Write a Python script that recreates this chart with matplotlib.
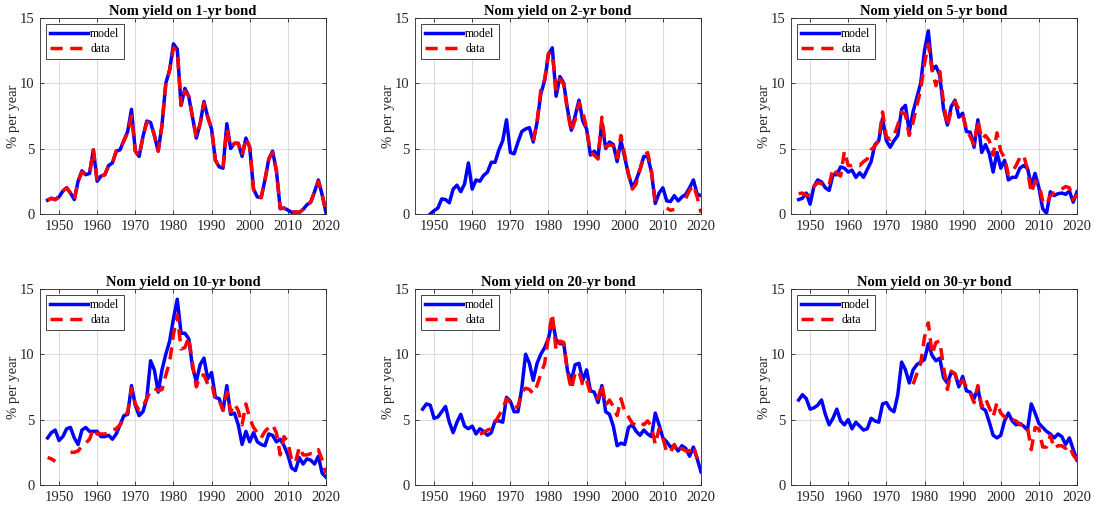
import numpy as np
import matplotlib
matplotlib.use("Agg")
from matplotlib import pyplot as plt

years = np.arange(1947, 2021)
nan = np.nan

# model-implied nominal yields, % per year, 1947-2020
model_1y = [1.05, 1.2, 1.1, 1.3, 1.75, 2.0, 1.6, 1.1, 2.5, 3.3,
            3.0, 3.1, 4.9, 2.5, 2.9, 3.0, 3.7, 3.9, 4.8, 4.9,
            5.6, 6.3, 8.0, 4.8, 4.4, 5.9, 7.1, 7.0, 6.0, 4.8,
            6.8, 10.0, 11.0, 13.0, 12.6, 8.3, 9.6, 9.0, 7.4, 5.8,
            6.9, 8.6, 7.4, 6.5, 4.1, 3.6, 3.5, 6.9, 5.0, 5.4,
            5.4, 4.4, 5.8, 5.1, 1.9, 1.3, 1.25, 2.6, 4.2, 4.8,
            3.3, 0.4, 0.45, 0.3, 0.12, 0.15, 0.12, 0.35, 0.7, 0.9,
            1.7, 2.6, 1.45, 0.1]
model_2y = [nan, nan, 0.0, 0.25, 0.45, 1.15, 1.1, 0.85, 1.9, 2.2,
            1.7, 2.3, 3.9, 1.9, 2.6, 2.5, 2.95, 3.2, 3.95, 3.95,
            4.9, 5.6, 7.2, 4.7, 4.6, 5.5, 6.3, 6.5, 6.6, 5.5,
            7.0, 9.2, 10.2, 12.2, 12.7, 9.0, 10.5, 10.0, 8.0, 6.4,
            7.5, 8.7, 7.1, 6.5, 4.5, 4.8, 4.4, 7.0, 5.0, 5.5,
            5.3, 4.0, 5.6, 4.3, 3.0, 2.0, 2.6, 3.4, 4.4, 4.4,
            3.2, 0.8, 1.6, 2.0, 1.0, 0.95, 1.4, 1.0, 1.3, 1.5,
            2.0, 2.6, 1.5, 1.4]
model_5y = [1.1, 1.2, 1.6, 0.75, 2.1, 2.6, 2.45, 2.0, 1.8, 3.0,
            3.0, 3.6, 3.5, 3.2, 3.35, 2.8, 3.15, 2.8, 3.4, 4.0,
            5.3, 5.6, 7.3, 5.6, 5.1, 5.6, 6.0, 8.0, 8.3, 6.3,
            7.8, 8.9, 10.0, 12.5, 14.0, 11.0, 11.3, 10.6, 8.0, 6.8,
            8.2, 8.7, 7.4, 7.7, 6.3, 6.25, 5.1, 7.2, 4.7, 5.3,
            4.6, 3.2, 4.7, 3.5, 4.1, 2.6, 2.8, 2.8, 3.5, 3.7,
            3.5, 2.2, 3.1, 2.0, 0.4, 0.05, 1.7, 1.4, 1.55, 1.6,
            1.5, 1.75, 0.9, 1.7]
model_10y = [3.6, 4.0, 4.2, 3.4, 3.7, 4.3, 4.4, 3.6, 3.1, 4.2,
             4.4, 4.1, 4.1, 4.1, 3.7, 3.7, 3.8, 3.5, 3.9, 4.6,
             5.3, 5.4, 7.6, 6.1, 5.3, 5.6, 6.6, 9.5, 8.8, 7.1,
             8.8, 10.0, 11.0, 12.7, 14.2, 11.6, 11.6, 11.2, 9.0, 7.9,
             9.2, 9.7, 8.1, 8.6, 6.7, 6.6, 5.7, 7.6, 5.4, 5.5,
             4.6, 3.1, 4.1, 3.3, 4.0, 3.3, 3.1, 3.0, 3.9, 3.8,
             3.3, 3.5, 3.0, 2.3, 1.3, 1.1, 2.1, 1.6, 2.0, 1.9,
             1.6, 2.2, 0.9, 0.6]
model_20y = [5.8, 6.2, 6.1, 5.1, 5.2, 5.6, 6.0, 4.8, 4.0, 4.8,
             5.4, 4.5, 4.3, 4.5, 3.9, 4.3, 4.1, 3.8, 4.0, 4.9,
             4.9, 4.8, 6.7, 6.4, 5.6, 5.6, 7.4, 10.0, 9.3, 8.0,
             9.3, 10.0, 10.5, 11.2, 12.6, 11.1, 10.8, 10.8, 8.7, 8.0,
             9.2, 9.3, 8.0, 8.8, 7.2, 7.1, 6.3, 7.6, 5.6, 5.4,
             4.5, 3.0, 3.2, 3.1, 4.4, 4.6, 4.1, 3.8, 4.2, 3.9,
             3.7, 5.5, 4.6, 3.6, 3.3, 2.9, 3.0, 2.6, 3.0, 2.8,
             2.2, 2.9, 2.0, 1.0]
model_30y = [6.5, 6.9, 6.6, 5.8, 5.9, 6.1, 6.5, 5.4, 4.6, 5.1,
             5.8, 4.9, 4.6, 5.0, 4.3, 4.8, 4.5, 4.2, 4.3, 5.1,
             4.9, 4.8, 6.2, 6.3, 5.8, 5.6, 6.9, 9.4, 8.8, 7.8,
             8.8, 9.2, 9.4, 9.6, 10.8, 9.9, 9.5, 9.7, 8.2, 7.8,
             8.6, 8.5, 7.5, 8.3, 7.2, 7.1, 6.6, 7.4, 5.9, 5.7,
             4.8, 3.8, 3.6, 3.8, 4.9, 5.5, 4.9, 4.6, 4.7, 4.5,
             4.2, 6.2, 5.5, 4.7, 4.4, 4.1, 3.9, 3.6, 3.9, 3.7,
             3.1, 3.6, 2.7, 1.9]

# observed yields, % per year (nan where not available)
data_1y = [1.05, 1.2, 1.1, 1.3, 1.75, 2.0, 1.6, 1.1, 2.5, 3.2,
           3.0, 3.1, 4.9, 2.5, 2.9, 3.0, 3.7, 3.9, 4.8, 4.9,
           5.6, 6.2, 7.5, 4.8, 4.4, 5.9, 7.0, 7.0, 6.0, 4.8,
           6.8, 10.0, 11.0, 12.7, 12.5, 8.3, 9.4, 9.0, 7.4, 5.9,
           6.9, 8.5, 7.4, 6.5, 4.1, 3.6, 3.5, 6.5, 5.1, 5.4,
           5.4, 4.5, 5.8, 5.1, 1.9, 1.3, 1.25, 2.6, 4.2, 4.7,
           3.3, 0.45, 0.45, 0.3, 0.12, 0.15, 0.12, 0.35, 0.7, 0.9,
           1.7, 2.5, 1.5, 0.2]
data_2y = [nan] * 29 + [
           5.6, 7.0, 9.5, 10.3, 12.3, 12.3, 9.5, 10.3, 9.9, 7.8,
           6.3, 7.2, 8.5, 7.8, 6.5, 4.7, 4.5, 4.2, 7.4, 5.1,
           5.3, 5.2, 4.3, 6.0, 4.5, 3.0, 1.9, 2.3, 3.4, 4.4,
           4.7, 3.3, 0.9, nan, nan, 0.45, 0.28, 0.35, nan, nan,
           1.2, 1.8, 2.2, 1.3, 0.1]
data_5y = [1.55, 1.6, 1.4, 1.5, 2.1, 2.4, 2.3, 2.3, 2.2, 3.5,
           3.1, 2.9, 4.8, 3.7, 3.7, 3.8, 3.7, 4.0, 4.2, 4.9,
           5.2, 5.6, 7.8, 5.9, 5.7, 6.0, 6.8, 7.8, 7.6, 6.0,
           7.0, 8.3, 9.5, 11.5, 13.0, 11.0, 9.8, 10.9, 8.5, 6.7,
           7.9, 8.6, 8.0, 7.6, 6.5, 5.9, 5.3, 7.2, 5.7, 6.0,
           5.6, 4.5, 6.2, 4.8, 4.3, 3.0, 3.2, 3.7, 4.3, 4.5,
           3.4, 1.6, 2.5, 2.3, 1.0, 0.7, 1.4, 1.6, 1.7, 1.9,
           2.1, 2.0, 1.1, 1.5]
data_10y = [2.1, 2.0, 1.8, nan, nan, nan, 2.5, 2.5, 2.6, 3.0,
            3.2, 3.5, 4.3, 3.9, 3.9, 3.9, 4.0, 4.2, 4.3, 4.6,
            5.1, 5.6, 7.4, 6.2, 5.7, 6.0, 6.6, 7.2, 7.4, 7.2,
            7.3, 8.4, 9.4, 11.5, 13.0, 10.4, 10.5, 11.3, 9.3, 7.5,
            8.4, 8.4, 7.7, 7.8, 6.5, 6.5, 5.7, 7.1, 5.6, 6.2,
            5.7, 4.6, 6.2, 5.1, 4.4, 4.0, 3.6, 4.1, 4.4, 4.6,
            4.0, 2.3, 3.7, 3.3, 1.9, 1.7, 2.9, 2.3, 2.3, 2.4,
            2.4, 2.7, 1.9, 0.9]
data_20y = [nan] * 15 + [
            3.9, 4.0, 4.2, 4.3, 4.8, 5.3, 5.8, 6.6, 6.3, 5.9,
            6.0, 7.1, 7.4, 7.3, 7.0, 7.6, 8.5, 9.3, 11.4, 13.1,
            10.3, 11.0, 10.9, 8.6, 7.3, 8.6, 8.7, 7.6, 8.0, 7.0,
            6.8, 6.6, 7.7, 6.1, 6.5, 6.0, 5.3, 6.6, 5.6, 5.2,
            4.7, 4.6, 4.8, 4.6, 4.9, 4.5, 3.1, 4.3, 3.6, 2.5,
            2.5, 3.1, 2.5, 2.8, 2.6, 2.6, 3.0, 2.0, nan]
data_30y = [nan] * 30 + [
            7.7, 8.5, 9.3, 11.3, 12.4, 10.0, 10.9, 11.0, 9.0, 7.3,
            8.7, 8.5, 7.6, 8.0, 7.5, 7.0, 6.3, 7.6, 6.0, 6.6,
            5.9, 5.2, 6.3, 5.5, 5.2, 4.9, 5.0, 4.9, 4.6, 4.7,
            4.4, 2.7, 4.4, 4.3, 2.9, 2.9, 3.8, 2.8, 3.0, 3.0,
            2.8, 3.0, 2.3, 1.9]

titles = ["Nom yield on 1-yr bond", "Nom yield on 2-yr bond", "Nom yield on 5-yr bond",
          "Nom yield on 10-yr bond", "Nom yield on 20-yr bond", "Nom yield on 30-yr bond"]
model_series = [model_1y, model_2y, model_5y, model_10y, model_20y, model_30y]
data_series = [data_1y, data_2y, data_5y, data_10y, data_20y, data_30y]

plt.rcParams["font.family"] = ["Liberation Serif", "DejaVu Serif"]
plt.rcParams["font.size"] = 10

fig = plt.figure(figsize=(10.95, 5.07), dpi=100)
lefts = [0.0365, 0.379, 0.7224]
bottoms = [0.578, 0.0434]
w, h = 0.2612, 0.387

for k in range(6):
    ax = fig.add_axes([lefts[k % 3], bottoms[k // 3], w, h])
    ax.plot(years, model_series[k], color="blue", lw=2.5, label="model")
    ax.plot(years, data_series[k], color="red", lw=2.5, ls=(0, (3.5, 2.2)), label="data")
    ax.set_xlim(1945, 2020)
    ax.set_ylim(0, 15)
    ax.set_xticks(np.arange(1950, 2021, 10))
    ax.set_yticks([0, 5, 10, 15])
    ax.grid(True, color="#dcdcdc", lw=0.8)
    ax.set_axisbelow(True)
    ax.tick_params(direction="in", top=True, right=True, length=3, width=0.6,
                   labelsize=10.5, colors="#262626", pad=4)
    for s in ax.spines.values():
        s.set_linewidth(0.6)
        s.set_color("#262626")
    ax.set_title(titles[k], fontweight="bold", fontsize=10.5, pad=2)
    ax.set_ylabel("% per year", fontsize=10.5, color="#262626", labelpad=0)
    leg = ax.legend(loc="upper left", fontsize=8.5, handlelength=3.2, borderpad=0.35,
                    labelspacing=0.3, handletextpad=0.2, borderaxespad=0.5,
                    fancybox=False, framealpha=1)
    leg.get_frame().set_edgecolor("#262626")
    leg.get_frame().set_linewidth(0.6)

fig.savefig("out.png", dpi=100)
